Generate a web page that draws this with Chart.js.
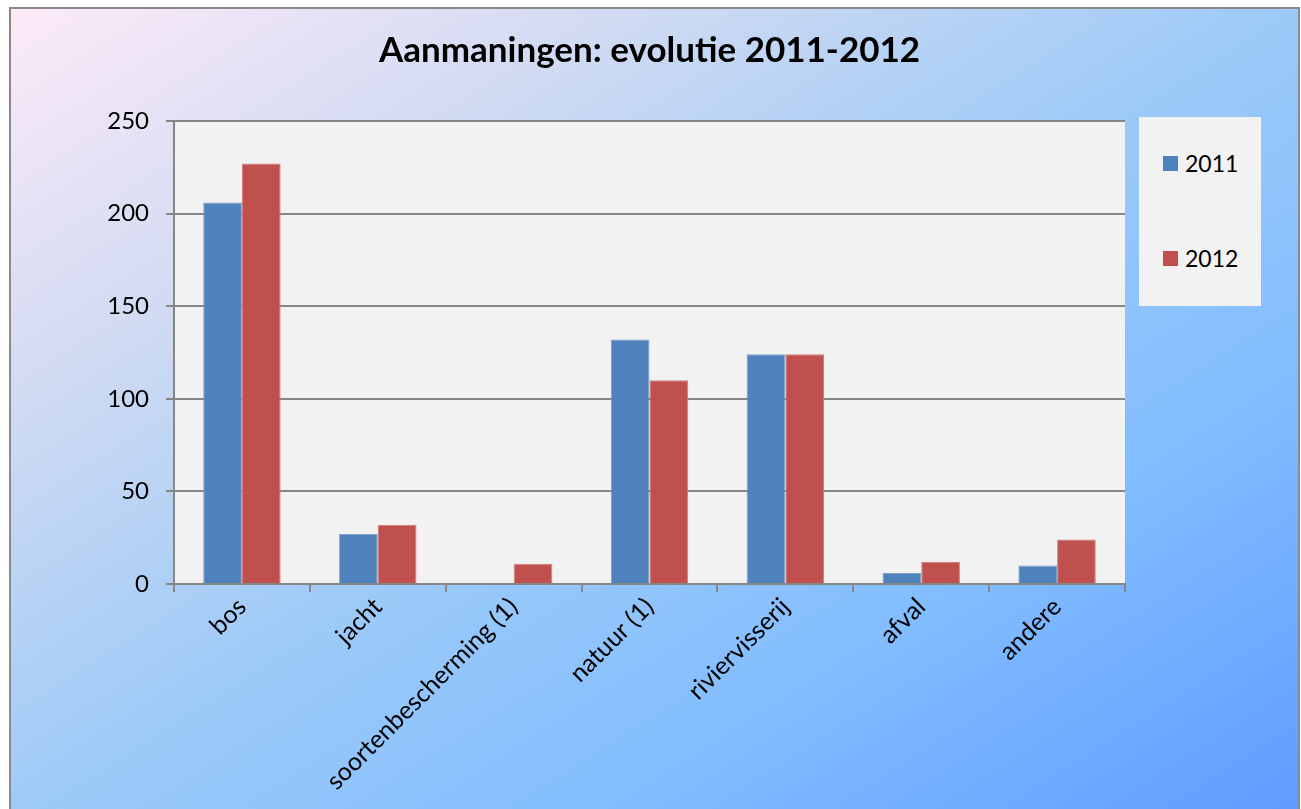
<!DOCTYPE html>
<html>
<head>
<meta charset="utf-8">
<script src="https://cdn.jsdelivr.net/npm/chart.js@4.4.1/dist/chart.umd.min.js"></script>
<style>
  html, body { margin: 0; padding: 0; width: 1301px; height: 809px; overflow: hidden; background: #ffffff; }
  #frame {
    position: absolute; left: 9px; top: 7px; width: 1287px; height: 820px;
    border: 2px solid #8a8a8a;
    background: linear-gradient(to bottom right, #fdeaf8 0%, #cfdaf2 25%, #9ccaf8 50%, #82bdff 72%, #5e9bff 100%);
  }
  #chartWrap { position: absolute; left: 0; top: 0; width: 1301px; height: 809px; }
  #legend {
    position: absolute; left: 1139px; top: 117px; width: 122px; height: 189px;
    background: #f2f2f2; font-family: Lato, "Open Sans", sans-serif; font-size: 23px; color: #000;
  }
  .lg-item { position: absolute; left: 24px; height: 28px; display: flex; align-items: center; }
  .lg-box { width: 15px; height: 15px; margin-right: 7px; }
</style>
</head>
<body>
<div id="frame"></div>
<div id="chartWrap"><canvas id="c" width="1301" height="809"></canvas></div>
<div id="legend"></div>
<script>
const chartTitle = 'Aanmaningen: evolutie 2011-2012';
const categories = ['bos', 'jacht', 'soortenbescherming (1)', 'natuur (1)', 'riviervisserij', 'afval', 'andere'];
const seriesNames = ['2011', '2012'];
const values2011 = [206, 27, 0, 132, 124, 6, 10];
const values2012 = [227, 32, 11, 110, 124, 12, 24];
const yTicks = [0, 50, 100, 150, 200, 250];

const FONT = 'Lato, "Open Sans", sans-serif';
const GRID = '#868686';

const plotBg = {
  id: 'plotBg',
  beforeDraw(chart) {
    const {ctx, chartArea: a} = chart;
    ctx.save();
    ctx.fillStyle = '#f2f2f2';
    ctx.fillRect(a.left, a.top, a.right - a.left, a.bottom - a.top);
    ctx.restore();
  }
};

const htmlLegend = {
  id: 'htmlLegend',
  afterUpdate(chart) {
    const box = document.getElementById('legend');
    box.innerHTML = '';
    const tops = [149, 244];
    chart.data.datasets.forEach((ds, i) => {
      const item = document.createElement('div');
      item.className = 'lg-item';
      item.style.top = (tops[i] - 117) + 'px';
      const sw = document.createElement('span');
      sw.className = 'lg-box';
      sw.style.background = ds.backgroundColor;
      const tx = document.createElement('span');
      tx.textContent = ds.label;
      item.appendChild(sw); item.appendChild(tx);
      box.appendChild(item);
    });
  }
};

new Chart(document.getElementById('c'), {
  type: 'bar',
  data: {
    labels: categories,
    datasets: [
      { label: seriesNames[0], data: values2011, backgroundColor: '#4f81bd', borderColor: '#7a9fcf', borderWidth: 1 },
      { label: seriesNames[1], data: values2012, backgroundColor: '#c0504d', borderColor: '#d27c79', borderWidth: 1 }
    ]
  },
  options: {
    responsive: false,
    animation: false,
    layout: { padding: { left: 0, right: 176, top: 0, bottom: 0 } },
    datasets: { bar: { categoryPercentage: 0.57, barPercentage: 1.0 } },
    plugins: {
      legend: { display: false },
      tooltip: { enabled: false },
      title: {
        display: true, text: chartTitle, fullSize: false, color: '#000',
        font: { family: FONT, size: 35, weight: 'bold' },
        padding: { top: 30, bottom: 49 }
      }
    },
    scales: {
      x: {
        grid: { display: true, drawOnChartArea: false, drawTicks: true, tickLength: 8, color: GRID, lineWidth: 2, offset: true },
        border: { display: true, color: GRID, width: 2 },
        ticks: { color: '#000', font: { family: FONT, size: 25 }, minRotation: 45, maxRotation: 45, autoSkip: false, padding: 0 },
        afterFit(scale) { scale.height = 225; }
      },
      y: {
        min: 0, max: 250,
        afterBuildTicks(scale) { scale.ticks = yTicks.map(v => ({ value: v })); },
        grid: { color: GRID, lineWidth: 2, drawTicks: true, tickLength: 8 },
        border: { display: true, color: GRID, width: 2 },
        ticks: { color: '#000', font: { family: FONT, size: 24 }, padding: 17 },
        afterFit(scale) { scale.width = 174; }
      }
    }
  },
  plugins: [plotBg, htmlLegend]
});
</script>
</body>
</html>
